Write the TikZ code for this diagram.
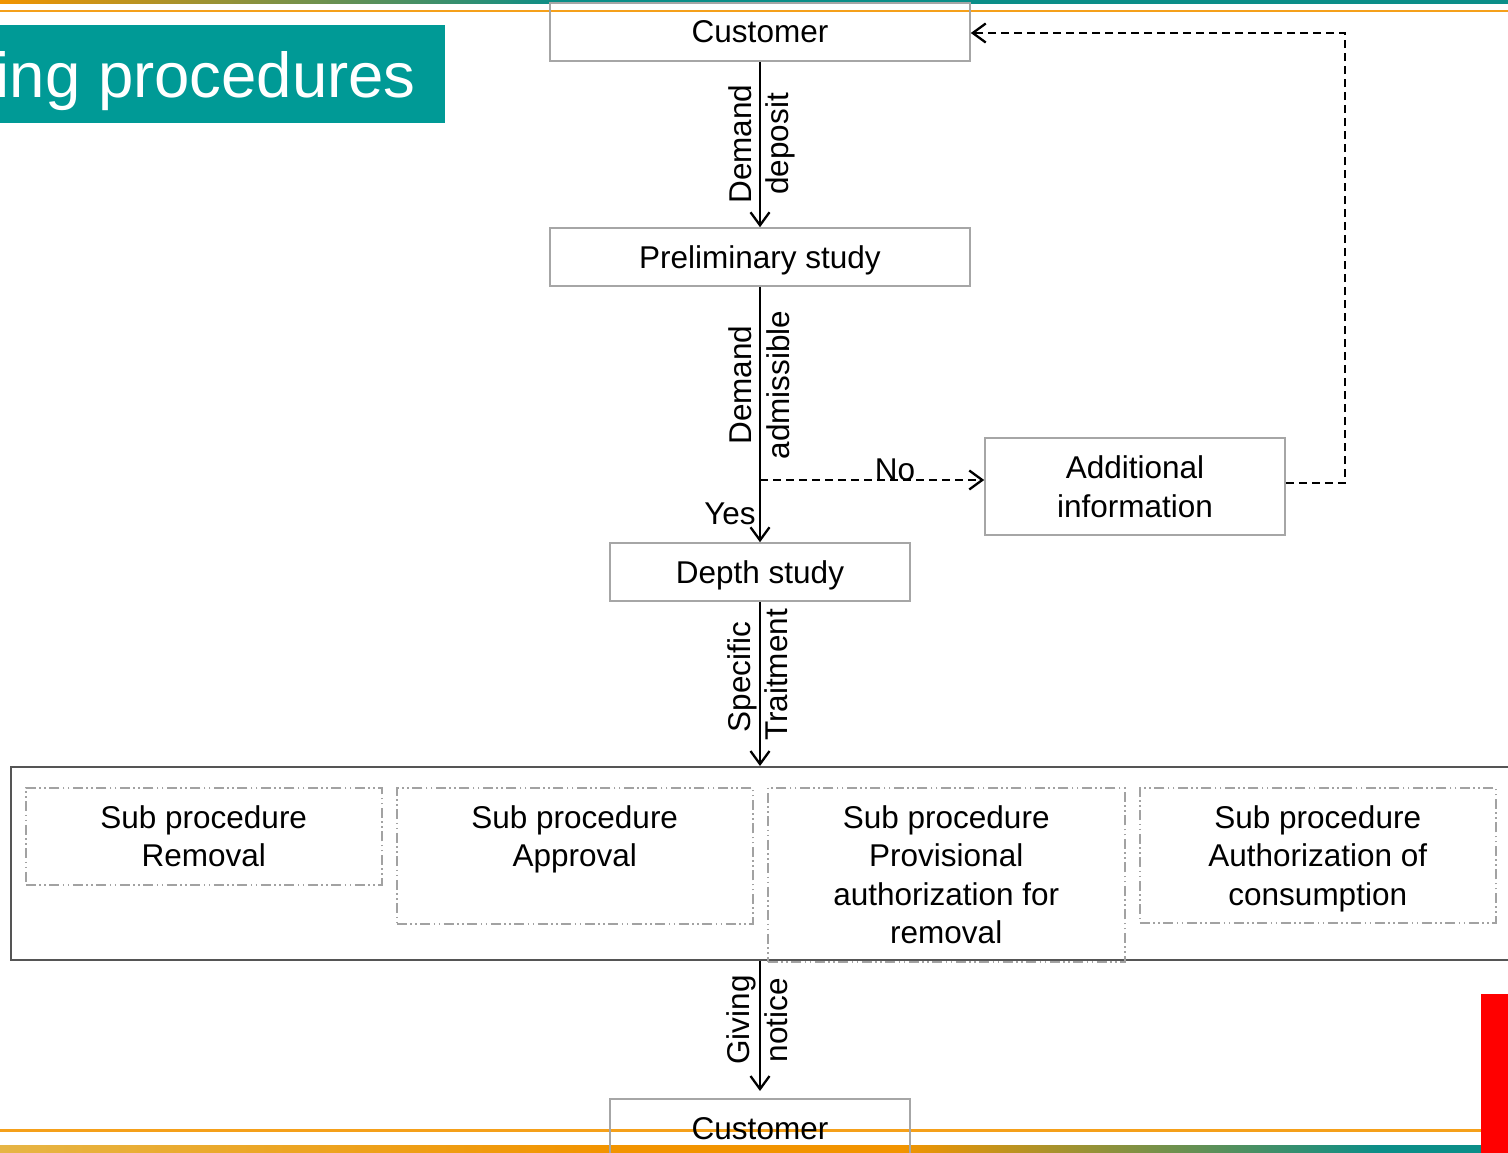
\documentclass[tikz,border=0pt]{standalone}
\usepackage{fontspec}
\setmainfont{Liberation Sans}
\usetikzlibrary{arrows.meta}
\definecolor{titleteal}{HTML}{009A96}
\definecolor{bandteal}{HTML}{0B8E88}
\definecolor{bandorange}{HTML}{F29400}
\definecolor{bandyellow}{HTML}{E6B545}
\definecolor{lineorange}{HTML}{F5A01A}
\definecolor{boxgray}{HTML}{A6A6A6}
\definecolor{subgray}{HTML}{A2A2A2}
\definecolor{outergray}{HTML}{555555}
\newcommand\diagfont{\fontsize{31.5}{38.6}\selectfont}
\begin{document}
\begin{tikzpicture}[x=1pt,y=-1pt,
  every node/.style={font=\diagfont, inner sep=0pt},
  box/.style={draw=boxgray, line width=1.6pt, minimum width=#1},
  oneline/.style={text height=23pt, text depth=1pt},
  subbox/.style={draw=subgray, line width=1.5pt,
    dash pattern=on 10pt off 3.5pt on 1.5pt off 3.5pt on 1.5pt off 3.5pt},
  subtext/.style={anchor=north, align=center},
  outerbox/.style={draw=outergray, line width=1.9pt},
  arr/.style={line width=2.3pt, -{Straight Barb[length=13pt,width=19pt,line width=2.3pt]}},
  darr/.style={arr, dash pattern=on 8pt off 5pt},
  lbl/.style={rotate=90, anchor=base},
  plainlbl/.style={anchor=base}
]
\clip (0,0) rectangle (1508,1153);
\fill[white] (0,0) rectangle (1508,1153);
% decorative bands
\shade[left color=bandorange, right color=bandteal] (0,0) rectangle (560,4);
\fill[bandteal] (560,0) rectangle (1508,4);
\fill[lineorange] (0,10) rectangle (1508,12.5);
\fill[lineorange] (0,1129) rectangle (1508,1131.5);
\shade[left color=bandyellow, right color=bandorange] (0,1145) rectangle (600,1153);
\fill[bandorange] (600,1145) rectangle (900,1153);
\shade[left color=bandorange, right color=bandteal] (900,1145) rectangle (1380,1153);
\fill[bandteal] (1380,1145) rectangle (1508,1153);
% title
\node[fill=titleteal, minimum width=445, minimum height=98, anchor=north west] (titlebox) at (0,25) {};
\node[anchor=base east, text=white, font=\fontsize{63.5}{70}\selectfont] (title) at (416,98) {ing procedures};
% main boxes
\node[box=420, minimum height=58, oneline] (cust1) at (760,32) {Customer};
\node[box=420, minimum height=58, oneline] (pre) at (760,257) {Preliminary study};
\node[box=300, minimum height=58, oneline] (depth) at (760,572) {Depth study};
\node[box=300, minimum height=97, align=center] (addl) at (1135,486.5) {Additional\\information};
\node[box=300, minimum height=60, anchor=north, oneline] (cust2) at (760,1098) {Customer};
% sub procedures
\node[outerbox, minimum width=1520, minimum height=193, anchor=north west] (outer) at (10,766) {};
\node[subbox, minimum width=356, minimum height=97, anchor=north west] (sp1) at (25,787) {};
\node[subbox, minimum width=356, minimum height=136, anchor=north west] (sp2) at (396,787) {};
\node[subbox, minimum width=357, minimum height=174, anchor=north west] (sp3) at (767,787) {};
\node[subbox, minimum width=356, minimum height=135, anchor=north west] (sp4) at (1139,787) {};
\node[subtext] (sp1t) at ([yshift=-18pt]sp1.north) {Sub procedure\\Removal};
\node[subtext] (sp2t) at ([yshift=-18pt]sp2.north) {Sub procedure\\Approval};
\node[subtext] (sp3t) at ([yshift=-18pt]sp3.north) {Sub procedure\\Provisional\\authorization for\\removal};
\node[subtext] (sp4t) at ([yshift=-18pt]sp4.north) {Sub procedure\\Authorization of\\consumption};
% connectors
\coordinate (split) at (760,480);
\coordinate (fbA) at (1345,483);
\coordinate (fbB) at (1345,33);
\draw[arr] (cust1) -- (pre);
\draw[arr] (pre) -- (depth);
\draw[arr] (depth.south) -- (depth.south |- outer.north);
\draw[arr, shorten >=7pt] (depth.south |- outer.south) -- (cust2.north);
\draw[darr] (split) -- (split -| addl.west);
\draw[darr] (fbA -| addl.east) -- (fbA) -- (fbB) -- (fbB -| cust1.east);
% connector labels
\node[lbl] (l1a) at (751,144) {Demand};
\node[lbl] (l1b) at (788,144) {deposit};
\node[lbl] (l2a) at (751,385) {Demand};
\node[lbl] (l2b) at (789,385) {admissible};
\node[lbl] (l3a) at (750,677) {Specific};
\node[lbl] (l3b) at (787,675) {Traitment};
\node[lbl] (l4a) at (749,1020) {Giving};
\node[lbl] (l4b) at (787,1020) {notice};
\node[plainlbl] (no) at (895,480) {No};
\node[plainlbl] (yes) at (730,524) {Yes};
% red bar
\fill[red] (1481,994) rectangle (1508,1153);
\end{tikzpicture}
\end{document}
